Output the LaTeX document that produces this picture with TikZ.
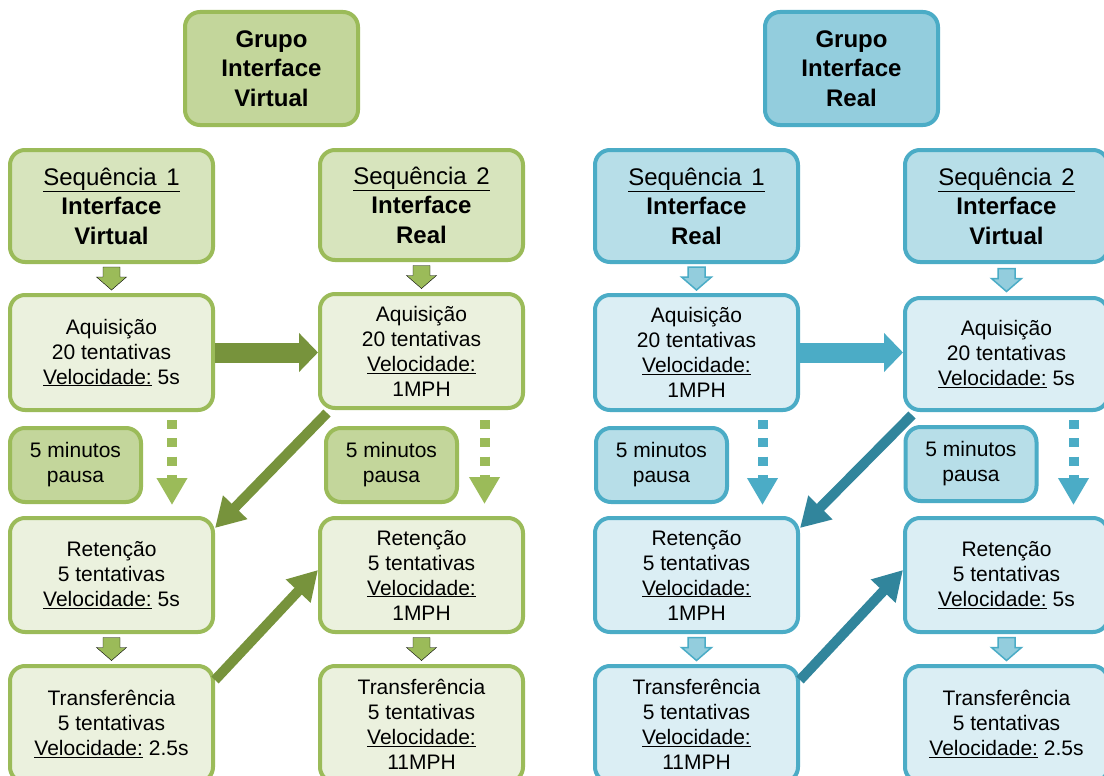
\documentclass[tikz,border=0pt]{standalone}
\usepackage{fontspec}
\setmainfont{Liberation Sans}
\usetikzlibrary{arrows.meta,calc}
\definecolor{gB}{HTML}{9BBB59}
\definecolor{gGrp}{HTML}{C3D69B}
\definecolor{gSeq}{HTML}{D7E4BD}
\definecolor{gCnt}{HTML}{EBF1DE}
\definecolor{gDark}{HTML}{77933C}
\definecolor{bB}{HTML}{4BACC6}
\definecolor{bGrp}{HTML}{93CDDD}
\definecolor{bSeq}{HTML}{B7DEE8}
\definecolor{bCnt}{HTML}{DBEEF4}
\definecolor{bDark}{HTML}{31859C}
\newcommand\myTxt{\fontsize{21}{25}\selectfont}
\newcommand\myHd{\fontsize{24}{29.5}\selectfont}
\newcommand\myBlockDown[3]{%
  \draw[#3] ($(#1.south)!0.5!(#2.north)$) ++(-8.5,-11.5) -- ++(17,0) -- ++(0,10)
    -- ++(6.5,0) -- ++(-15,13) -- ++(-15,-13) -- ++(6.5,0) -- cycle;}
\tikzset{
  box/.style={draw, rounded corners=15pt, line width=4pt, align=center,
    inner sep=0pt, text=black, font=\myTxt},
  gbox/.style={box, draw=gB},
  bbox/.style={box, draw=bB},
  grpbox/.style={minimum width=173pt, minimum height=113pt, font=\myHd\bfseries},
  seqbox/.style={minimum width=203pt, minimum height=112pt, font=\myHd},
  cntbox/.style={minimum width=203pt, minimum height=114pt},
  trbox/.style={minimum width=203pt, minimum height=116pt},
  pbox/.style={minimum width=131pt, minimum height=74pt},
  gsmall/.style={fill=gB},
  bsmall/.style={fill=bGrp, draw=bB, line width=1.5pt},
  bigarrow/.style={line width=20pt, -{Triangle[length=19pt,width=38pt]}},
  diagarrow/.style={line width=10pt, -{Triangle[length=29pt,width=32pt]}},
  dotarrow/.style={line width=10pt, dash pattern=on 9pt off 9.3pt, -{Triangle[length=27pt,width=29pt]}},
}
\begin{document}
\begin{tikzpicture}[x=1pt,y=-1pt]
\useasboundingbox[fill=white] (0,0) rectangle (1104,776);
% ---------------- Green group ----------------
\node[gbox, grpbox, fill=gGrp] (G1) at (271.5,68.5) {Grupo\\Interface\\Virtual};
\node[gbox, seqbox, fill=gSeq] (S1) at (111.5,206) {\underline{Sequência\hspace{0.4em}1}\\\textbf{Interface}\\\textbf{Virtual}};
\node[gbox, seqbox, fill=gSeq, minimum height=110pt] (S2) at (421.5,205) {\underline{Sequência\hspace{0.4em}2}\\\textbf{Interface}\\\textbf{Real}};
\node[gbox, cntbox, fill=gCnt, minimum height=115pt] (A1) at (111.5,352.5) {Aquisição\\20 tentativas\\\underline{Velocidade:} 5s};
\node[gbox, cntbox, fill=gCnt] (A2) at (421.5,351) {Aquisição\\20 tentativas\\\underline{Velocidade:}\\1MPH};
\node[gbox, pbox, fill=gGrp] (P1) at (75.5,465) {5 minutos\\pausa};
\node[gbox, pbox, fill=gGrp] (P2) at (391.5,465) {5 minutos\\pausa};
\node[gbox, cntbox, fill=gCnt] (R1) at (111.5,575) {Retenção\\5 tentativas\\\underline{Velocidade:} 5s};
\node[gbox, cntbox, fill=gCnt] (R2) at (421.5,575) {Retenção\\5 tentativas\\\underline{Velocidade:}\\1MPH};
\node[gbox, trbox, fill=gCnt] (T1) at (111.5,724) {Transferência\\5 tentativas\\\underline{Velocidade:} 2.5s};
\node[gbox, trbox, fill=gCnt] (T2) at (421.5,724) {Transferência\\5 tentativas\\\underline{Velocidade:}\\11MPH};
\myBlockDown{S1}{A1}{gsmall}
\myBlockDown{S2}{A2}{gsmall}
\myBlockDown{R1}{T1}{gsmall}
\myBlockDown{R2}{T2}{gsmall}
\draw[bigarrow, gDark] (A1.east) -- (A1.east -| A2.west);
\draw[diagarrow, gDark] ($(A2.south west)+(9,3)$) -- ($(R1.north east)+(0,12)$);
\draw[diagarrow, gDark] ($(T1.north east)+(0,16)$) -- ($(R2.west)+(0,-5)$);
\draw[dotarrow, gB] ($(A1.south)+(60.5,8)$) -- ($(R1.north)+(60.5,-11)$);
\draw[dotarrow, gB] ($(A2.south)+(63,10)$) -- ($(R2.north)+(63,-12)$);
% ---------------- Blue group ----------------
\node[bbox, grpbox, fill=bGrp] (G2) at (851.5,68.5) {Grupo\\Interface\\Real};
\node[bbox, seqbox, fill=bSeq] (S3) at (696.5,206) {\underline{Sequência\hspace{0.4em}1}\\\textbf{Interface}\\\textbf{Real}};
\node[bbox, seqbox, fill=bSeq] (S4) at (1006.5,206) {\underline{Sequência\hspace{0.4em}2}\\\textbf{Interface}\\\textbf{Virtual}};
\node[bbox, cntbox, fill=bCnt, minimum height=115pt] (A3) at (696.5,352.5) {Aquisição\\20 tentativas\\\underline{Velocidade:}\\1MPH};
\node[bbox, cntbox, fill=bCnt, minimum height=112pt] (A4) at (1006.5,354) {Aquisição\\20 tentativas\\\underline{Velocidade:} 5s};
\node[bbox, pbox, fill=bSeq] (P3) at (661.5,465) {5 minutos\\pausa};
\node[bbox, pbox, fill=bSeq] (P4) at (971,464) {5 minutos\\pausa};
\node[bbox, cntbox, fill=bCnt] (R3) at (696.5,575) {Retenção\\5 tentativas\\\underline{Velocidade:}\\1MPH};
\node[bbox, cntbox, fill=bCnt] (R4) at (1006.5,575) {Retenção\\5 tentativas\\\underline{Velocidade:} 5s};
\node[bbox, trbox, fill=bCnt] (T3) at (696.5,724) {Transferência\\5 tentativas\\\underline{Velocidade:}\\11MPH};
\node[bbox, trbox, fill=bCnt] (T4) at (1006.5,724) {Transferência\\5 tentativas\\\underline{Velocidade:} 2.5s};
\myBlockDown{S3}{A3}{bsmall}
\myBlockDown{S4}{A4}{bsmall}
\myBlockDown{R3}{T3}{bsmall}
\myBlockDown{R4}{T4}{bsmall}
\draw[bigarrow, bB] (A3.east) -- (A3.east -| A4.west);
\draw[diagarrow, bDark] ($(A4.south west)+(9,3)$) -- ($(R3.north east)+(0,12)$);
\draw[diagarrow, bDark] ($(T3.north east)+(0,16)$) -- ($(R4.west)+(0,-5)$);
\draw[dotarrow, bB] ($(A3.south)+(66,8)$) -- ($(R3.north)+(66,-11)$);
\draw[dotarrow, bB] ($(A4.south)+(67,8)$) -- ($(R4.north)+(67,-11)$);
\end{tikzpicture}
\end{document}
